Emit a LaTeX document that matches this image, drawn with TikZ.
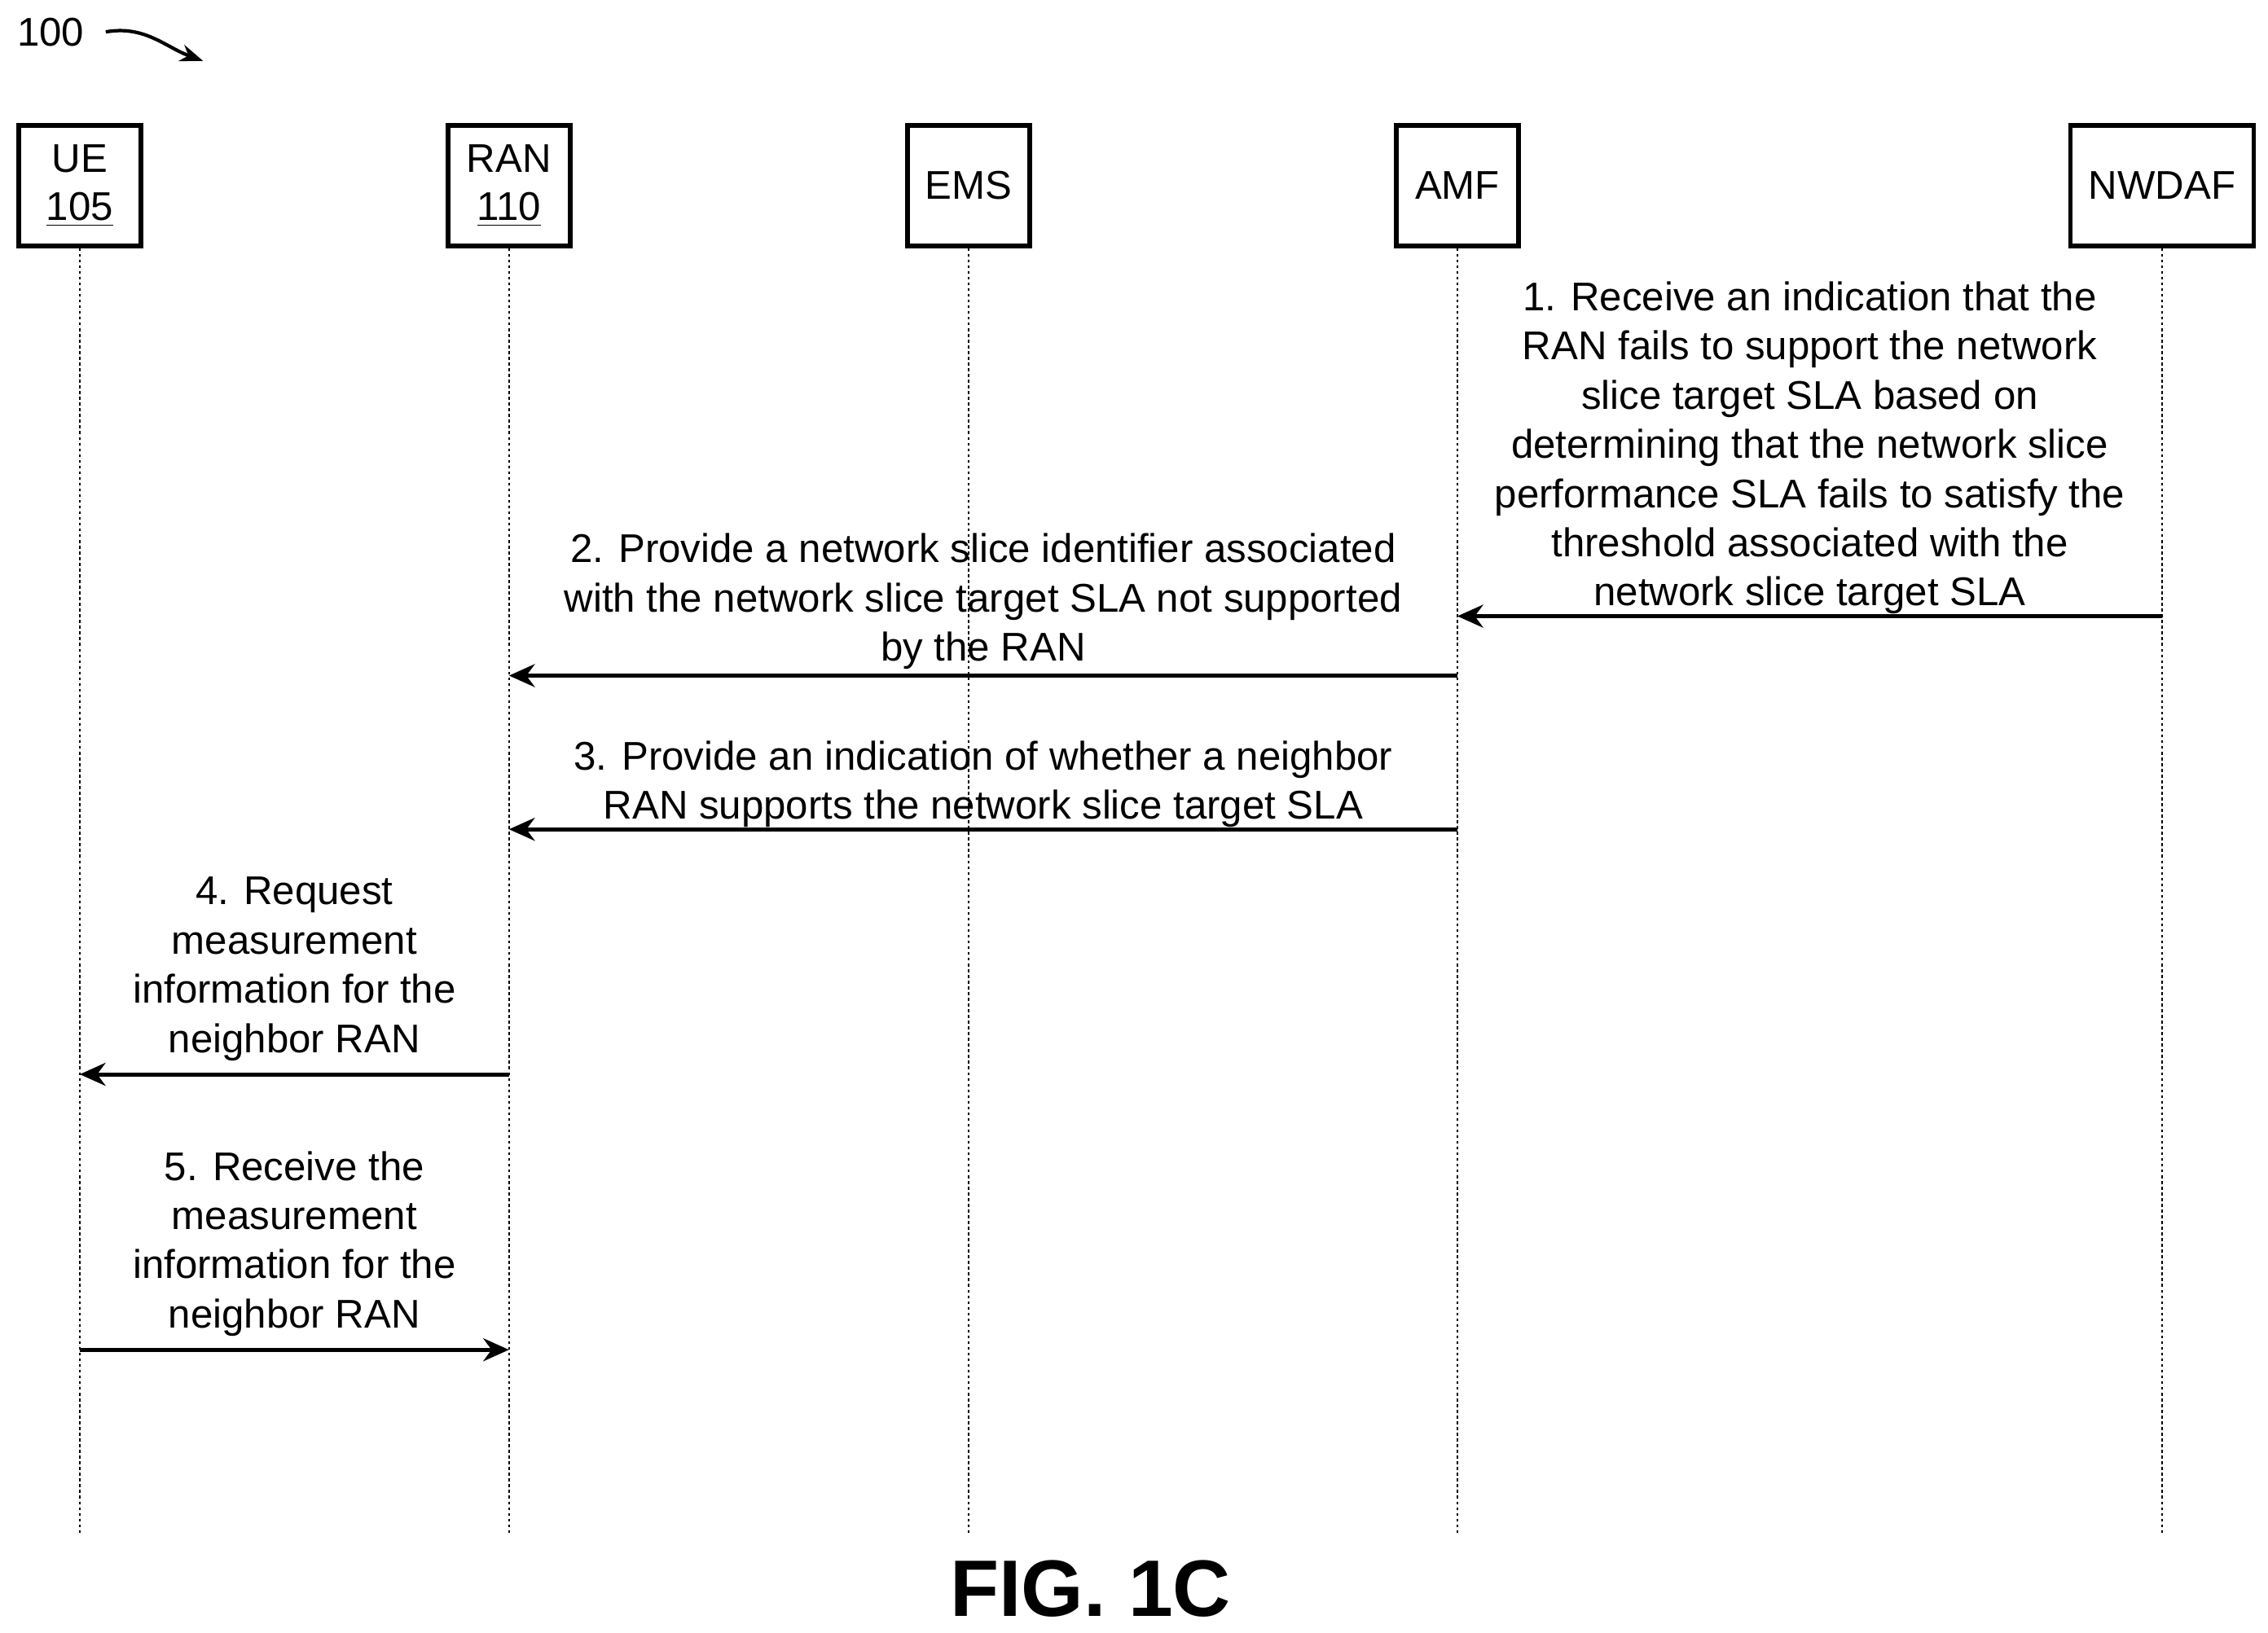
\documentclass[tikz,border=0pt]{standalone}
\usepackage{fontspec}
\setmainfont{Liberation Sans}
\usetikzlibrary{arrows.meta}

\tikzset{
  actor/.style={draw, line width=1.6pt, minimum height=1.48cm, align=center, font=\fontsize{14}{17}\selectfont},
  life/.style={line width=0.5pt, dash pattern=on 1pt off 1pt},
  msg/.style={line width=1.4pt, -{Stealth[length=9pt,width=8pt]}},
  note/.style={align=center, anchor=south, inner sep=1pt, font=\fontsize{14}{17.2}\selectfont},
}

\begin{document}
\begin{tikzpicture}[x=0.0178cm, y=-0.0178cm]
  \useasboundingbox (0,0) rectangle (1564,1126);

  % participants
  \node[actor, minimum width=1.5cm] (ue) at (55,128) {UE\\\underline{105}};
  \node[actor, minimum width=1.5cm] (ran) at (351,128) {RAN\\\underline{110}};
  \node[actor, minimum width=1.5cm] (ems) at (668,128) {EMS};
  \node[actor, minimum width=1.5cm] (amf) at (1005,128) {AMF};
  \node[actor, minimum width=2.25cm] (nwdaf) at (1491,128) {NWDAF};

  % lifelines
  \foreach \a in {ue,ran,ems,amf,nwdaf} {
    \coordinate (\a end) at (\a.south |- 0,1058);
    \draw[life] (\a.south) -- (\a end);
  }

  % label
  \node[font=\fontsize{14}{17}\selectfont] (fignum) at (35,22) {100};
  \coordinate (hook) at (140,42);
  \draw[line width=1.2pt, -{Stealth[length=8pt]}] (fignum.east) ++(4pt,0) to[out=10,in=160] (hook);

  % messages
  \coordinate (m1a) at (nwdaf |- 0,425); \coordinate (m1b) at (amf |- 0,425);
  \draw[msg] (m1a) -- (m1b);
  \node[note] (t1) at (1248,426) {1. Receive an indication that the\\RAN fails to support the network\\slice target SLA based on\\determining that the network slice\\performance SLA fails to satisfy the\\threshold associated with the\\network slice target SLA};

  \coordinate (m2a) at (amf |- 0,466); \coordinate (m2b) at (ran |- 0,466);
  \draw[msg] (m2a) -- (m2b);
  \node[note] (t2) at (678,464) {2. Provide a network slice identifier associated\\with the network slice target SLA not supported\\by the RAN};

  \coordinate (m3a) at (amf |- 0,572); \coordinate (m3b) at (ran |- 0,572);
  \draw[msg] (m3a) -- (m3b);
  \node[note] (t3) at (678,573) {3. Provide an indication of whether a neighbor\\RAN supports the network slice target SLA};

  \coordinate (m4a) at (ran |- 0,741); \coordinate (m4b) at (ue |- 0,741);
  \draw[msg] (m4a) -- (m4b);
  \node[note] (t4) at (203,734) {4. Request\\measurement\\information for the\\neighbor RAN};

  \coordinate (m5a) at (ue |- 0,931); \coordinate (m5b) at (ran |- 0,931);
  \draw[msg] (m5a) -- (m5b);
  \node[note] (t5) at (203,924) {5. Receive the\\measurement\\information for the\\neighbor RAN};

  \node[font=\fontsize{28}{32}\bfseries\selectfont] (title) at (752,1096) {FIG. 1C};
\end{tikzpicture}
\end{document}
